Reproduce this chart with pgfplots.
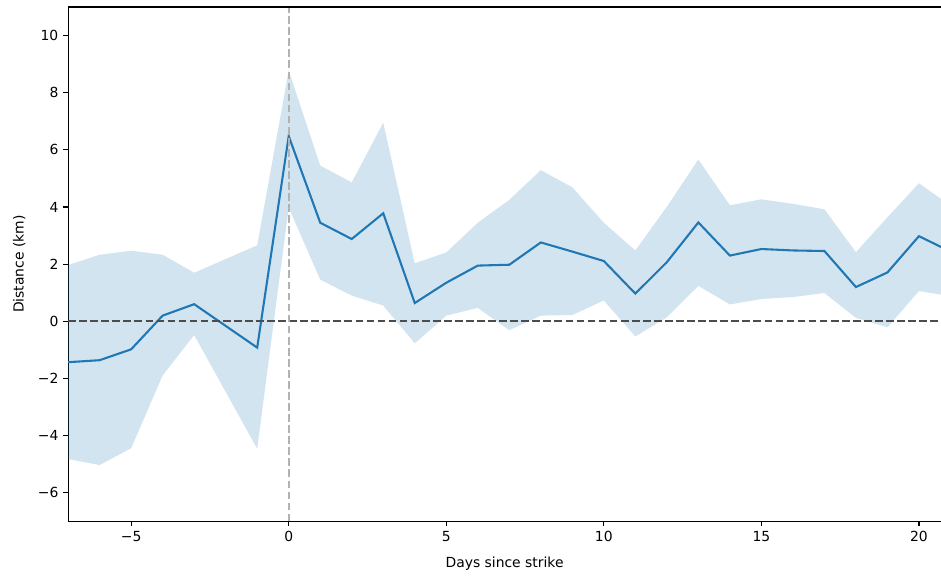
\documentclass[border=0pt]{standalone}
\usepackage{pgfplots}
\pgfplotsset{compat=1.18}
\usepackage{fontspec}
\setmainfont{DejaVu Sans}
\definecolor{mplblue}{HTML}{1F77B4}
\pgfplotstableread{
x mean
-7 -1.43
-6 -1.36
-5 -0.98
-4 0.20
-3 0.60
-1 -0.92
0 6.48
1 3.45
2 2.88
3 3.78
4 0.64
5 1.35
6 1.95
7 1.98
8 2.76
9 2.44
10 2.11
11 0.97
12 2.07
13 3.46
14 2.30
15 2.53
16 2.48
17 2.46
18 1.20
19 1.71
20 2.98
21 2.44
}\meantable
\pgfplotstableread{
x y
-7 1.97
-6 2.33
-5 2.47
-4 2.33
-3 1.70
-1 2.66
0 8.78
1 5.45
2 4.86
3 6.95
4 2.03
5 2.41
6 3.45
7 4.25
8 5.29
9 4.69
10 3.45
11 2.48
12 4.01
13 5.66
14 4.06
15 4.27
16 4.11
17 3.92
18 2.42
19 3.64
20 4.83
21 4.05
21 0.88
20 1.06
19 -0.21
18 0.12
17 0.99
16 0.85
15 0.78
14 0.59
13 1.24
12 0.14
11 -0.53
10 0.73
9 0.22
8 0.20
7 -0.31
6 0.47
5 0.20
4 -0.77
3 0.55
2 0.90
1 1.46
0 3.98
-1 -4.46
-3 -0.48
-4 -1.89
-5 -4.44
-6 -5.03
-7 -4.82
}\bandtable
\begin{document}
\begin{tikzpicture}
\begin{axis}[
  scale only axis,
  width=627.8pt, height=370pt,
  at={(0,0)}, anchor=south west,
  xmin=-7, xmax=20.7, ymin=-7, ymax=11,
  axis lines*=left,
  axis line style={line width=0.8pt, black},
  tick align=outside,
  major tick length=3.5pt,
  every tick/.append style={black, line width=0.8pt},
  xtick={-5,0,5,10,15,20},
  xticklabels={−5,0,5,10,15,20},
  ytick={-6,-4,-2,0,2,4,6,8,10},
  yticklabels={−6,−4,−2,0,2,4,6,8,10},
  tick label style={font=\fontsize{10}{12}\selectfont},
  label style={font=\fontsize{10}{12}\selectfont},
  xlabel={Days since strike},
  ylabel={Distance (km)},
  xlabel style={yshift=-4pt},
  ylabel style={yshift=2pt},
]
\addplot[fill=mplblue, fill opacity=0.2, draw=none] table[x=x, y=y] {\bandtable} -- cycle;
\addplot[mplblue, line width=1.5pt] table[x=x, y=mean] {\meantable};
\addplot[color=black!70, line width=1.5pt, dash pattern=on 5.55pt off 2.4pt] coordinates {(-7,0) (21,0)};
\addplot[color=black!30, line width=1.5pt, dash pattern=on 5.55pt off 2.4pt] coordinates {(0,-7) (0,11)};
\draw[black, line width=0.8pt] (rel axis cs:0,1) -- (rel axis cs:1,1);
\end{axis}
\pgfresetboundingbox
\path (-49pt,-39.6pt) rectangle (627.8pt,375pt);
\end{tikzpicture}
\end{document}
